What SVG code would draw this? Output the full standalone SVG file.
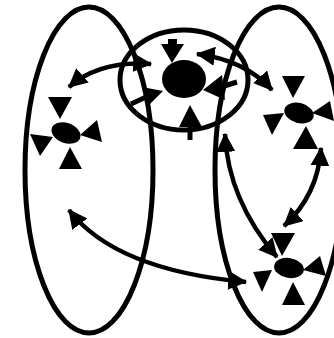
<svg xmlns="http://www.w3.org/2000/svg" width="334" height="338" viewBox="0 0 334 338">
<style>
.grp{fill:none;stroke:#000;stroke-width:5}
.blob{fill:#000}
.tri{fill:#000}
.stem{stroke:#000;stroke-width:5;fill:none}
.edge{fill:none;stroke:#000;stroke-width:4.5;marker-start:url(#ah);marker-end:url(#ah)}
</style>
<defs>
<marker id="ah" viewBox="0 0 16 16" markerWidth="19" markerHeight="19" refX="15" refY="8" orient="auto-start-reverse" markerUnits="userSpaceOnUse">
<path d="M0,0 L16,8 L0,16 z" fill="#000"/>
</marker>
</defs>
<rect width="334" height="338" fill="#fff"/>
<g id="clusters">
<ellipse class="grp" cx="89" cy="170" rx="64" ry="163"/>
<ellipse class="grp" cx="279" cy="170" rx="64" ry="163"/>
<ellipse class="grp" cx="184" cy="80" rx="64" ry="50"/>
</g>
<g id="connectors">
<path class="edge" d="M69,87 Q100,60 151,64"/>
<path class="edge" d="M197,54 Q245,60 272,90"/>
<path class="edge" d="M321,148 Q318,195 284,226"/>
<path class="edge" d="M225,134 Q228,200 277,257"/>
<path class="edge" d="M69,210 Q115,270 246,282"/>
</g>
<g id="node-left">
<ellipse class="blob" cx="66" cy="133" rx="15" ry="10" transform="rotate(20 66 133)"/>
<polygon class="tri" points="48,97 72,97 60,119"/>
<polygon class="tri" points="30,134 53,137 40,156"/>
<polygon class="tri" points="80,135 97,120 102,142"/>
<polygon class="tri" points="59,169 82,169 70,147"/>
</g>
<g id="node-center">
<ellipse class="blob" cx="184" cy="79" rx="22" ry="19"/>
<rect class="blob" x="168" y="39" width="9" height="7"/>
<polygon class="tri" points="161,44 184,44 172,63"/>
<polygon class="tri" points="203,90 222,75 225,100"/>
<line class="stem" x1="221" y1="87" x2="237" y2="82"/>
<polygon class="tri" points="142,87 148,106 163,91"/>
<line class="stem" x1="131" y1="104" x2="146" y2="97"/>
<polygon class="tri" points="190,105 179,127 202,127"/>
<line class="stem" x1="190" y1="126" x2="190" y2="140"/>
</g>
<g id="node-right-top">
<ellipse class="blob" cx="299" cy="113" rx="15" ry="10" transform="rotate(15 299 113)"/>
<polygon class="tri" points="282,76 305,76 293,98"/>
<polygon class="tri" points="263,115 284,113 272,135"/>
<polygon class="tri" points="312,113 330,101 334,121"/>
<polygon class="tri" points="306,126 293,149 318,149"/>
</g>
<g id="node-right-bottom">
<ellipse class="blob" cx="289" cy="268" rx="15" ry="10" transform="rotate(10 289 268)"/>
<polygon class="tri" points="271,233 295,233 282,256"/>
<polygon class="tri" points="253,272 272,270 262,292"/>
<polygon class="tri" points="303,270 320,256 326,276"/>
<polygon class="tri" points="293,282 282,305 305,305"/>
</g>
</svg>
